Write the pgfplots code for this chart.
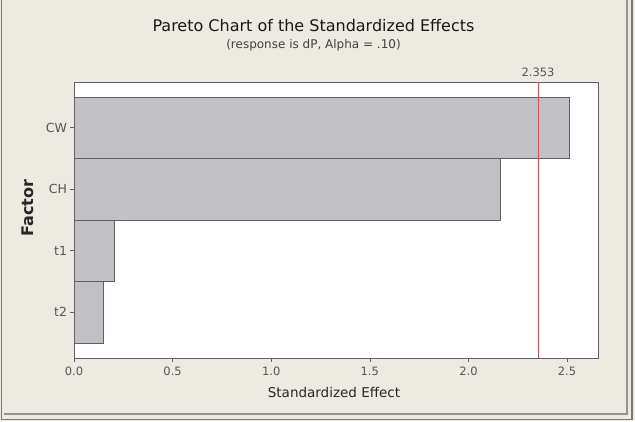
\documentclass[border=0pt]{standalone}
\usepackage{pgfplots}
\pgfplotsset{compat=1.18}
\usepackage{fontspec}
\setmainfont{DejaVu Sans}
\definecolor{bgc}{RGB}{236,234,225}
\definecolor{barc}{RGB}{192,192,197}
\definecolor{edgec}{RGB}{95,95,100}
\definecolor{redl}{RGB}{215,75,85}
\definecolor{txtc}{RGB}{85,85,85}
\definecolor{framec}{RGB}{120,120,120}
\begin{document}
\begin{tikzpicture}
\useasboundingbox (0pt,0pt) rectangle (635pt,421pt);
\fill[bgc] (0pt,0pt) rectangle (635pt,421pt);
\draw[framec, line width=1.5pt] (1.5pt,421pt) -- (1.5pt,1.5pt) -- (632pt,1.5pt) -- (632pt,421pt);
\draw[framec!80, line width=1.2pt] (4pt,7pt) -- (627pt,7pt) -- (627pt,421pt);
\node[text=black!90, font=\fontsize{16}{18}\selectfont] at (313.5pt,395pt) {Pareto Chart of the Standardized Effects};
\node[text=black!75, font=\fontsize{12}{14}\selectfont] at (313.5pt,376pt) {(response is dP, Alpha = .10)};
\node[text=black!85, font=\fontsize{13.5}{15}\selectfont] at (334pt,29pt) {Standardized Effect};
\node[text=black!85, font=\bfseries\fontsize{16}{18}\selectfont, rotate=90] at (28pt,213pt) {Factor};
\begin{axis}[
  at={(74pt,63pt)}, anchor=south west,
  width=524pt, height=276pt, scale only axis,
  xmin=0, xmax=2.657,
  ymin=0.256, ymax=4.744,
  xbar, bar width=1, bar shift=0pt,
  axis background/.style={fill=white},
  axis line style={draw=edgec, line width=0.8pt},
  xtick={0,0.5,1,1.5,2,2.5},
  xticklabel style={yshift=-2pt, /pgf/number format/.cd, fixed, fixed zerofill, precision=1, assume math mode=true},
  ytick={1,2,3,4},
  yticklabels={t2,t1,CH,CW},
  tick align=outside,
  xtick pos=bottom, ytick pos=left,
  major tick length=3.5pt,
  tick style={draw=edgec, line width=0.6pt},
  ticklabel style={text=txtc, font=\fontsize{11.5}{13}\selectfont},
  yticklabel style={font=\fontsize{12.5}{14}\selectfont},
  clip=false,
]
\addplot[fill=barc, draw=edgec, line width=0.8pt] coordinates {(0.147,1) (0.203,2) (2.16,3) (2.51,4)};
\draw[redl, line width=0.8pt] (axis cs:2.353,0.256) -- (axis cs:2.353,4.744);
\node[anchor=center, text=txtc, font=\fontsize{11.5}{13}\selectfont, yshift=10pt] at (axis cs:2.353,4.744) {2.353};
\end{axis}
\end{tikzpicture}
\end{document}
